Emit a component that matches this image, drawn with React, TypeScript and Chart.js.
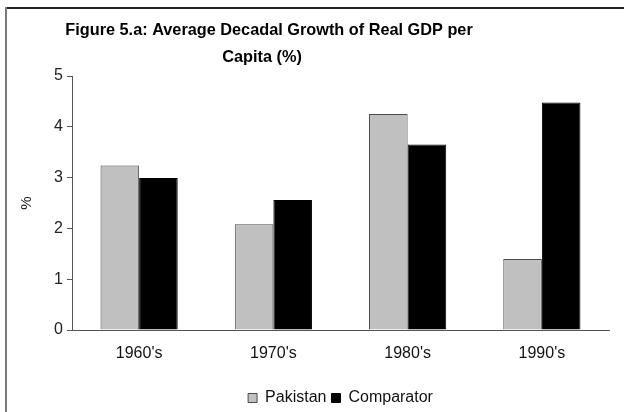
import React, { useEffect, useRef } from "react";
import { Chart, registerables } from "chart.js";

Chart.register(...registerables);

const categories = ["1960's", "1970's", "1980's", "1990's"];
const pakistan = [3.24, 2.08, 4.25, 1.4];
const comparator = [2.99, 2.56, 3.65, 4.48];
const titleLines = ["Figure 5.a: Average Decadal Growth of Real GDP per", "Capita (%)"];
const yAxisTitle = "%";

const FONT = "'Liberation Sans', Arial, Helvetica, sans-serif";

const titlePlugin = {
  id: "customTitle",
  afterDraw(chart: any) {
    const ctx = chart.ctx;
    ctx.save();
    ctx.fillStyle = "#000";
    ctx.font = `bold 16.3px ${FONT}`;
    ctx.textAlign = "center";
    ctx.textBaseline = "alphabetic";
    ctx.fillText(titleLines[0], 269, 35);
    ctx.fillText(titleLines[1], 262, 62);
    ctx.restore();
  },
};

export default function App() {
  const ref = useRef<HTMLCanvasElement>(null);
  useEffect(() => {
    if (!ref.current) return;
    const chart = new Chart(ref.current, {
      type: "bar",
      data: {
        labels: categories,
        datasets: [
          {
            label: "Pakistan",
            data: pakistan,
            backgroundColor: "#c0c0c0",
            borderColor: "#4a4a4a",
            borderWidth: 1,
          },
          {
            label: "Comparator",
            data: comparator,
            backgroundColor: "#000000",
            borderColor: "#000000",
            borderWidth: 1,
          },
        ],
      },
      options: {
        responsive: false,
        animation: false,
        devicePixelRatio: 1,
        layout: { padding: { left: 0, right: 15, top: 76, bottom: -4 } },
        datasets: { bar: { categoryPercentage: 0.575, barPercentage: 1.0 } } as any,
        scales: {
          x: {
            grid: { display: false },
            border: { display: true, color: "#555", width: 1 },
            ticks: { color: "#111", font: { family: FONT, size: 16 }, padding: 6 },
            afterFit(scale: any) { scale.height = 55; },
          },
          y: {
            min: 0,
            max: 5,
            ticks: { stepSize: 1, color: "#222", font: { family: FONT, size: 16 }, padding: 4 },
            grid: { display: true, drawOnChartArea: false, drawTicks: true, tickLength: 5, color: "#555" },
            border: { display: true, color: "#555", width: 1 },
            title: { display: true, text: yAxisTitle, color: "#111", font: { family: FONT, size: 15 }, padding: { top: 18, bottom: 0 } },
            afterFit(scale: any) { scale.width = 72; },
          },
        },
        plugins: {
          title: { display: false },
          tooltip: { enabled: false },
          legend: {
            position: "bottom",
            fullSize: false,
            labels: {
              boxWidth: 9,
              boxHeight: 9,
              color: "#111",
              font: { family: FONT, size: 16 },
              padding: 5,
            },
          },
        },
      },
      plugins: [titlePlugin],
    });
    return () => chart.destroy();
  }, []);
  return (
    <div style={{ position: "absolute", left: 0, top: 0, width: 624, height: 412, background: "#fff", overflow: "hidden" }}>
      <canvas ref={ref} width={624} height={412} style={{ display: "block" }} />
      <div style={{ position: "absolute", left: 5, top: 7, right: 0, height: 2, background: "#222" }} />
      <div style={{ position: "absolute", left: 5, top: 7, bottom: 0, width: 2, background: "#7a7a7a" }} />
    </div>
  );
}
